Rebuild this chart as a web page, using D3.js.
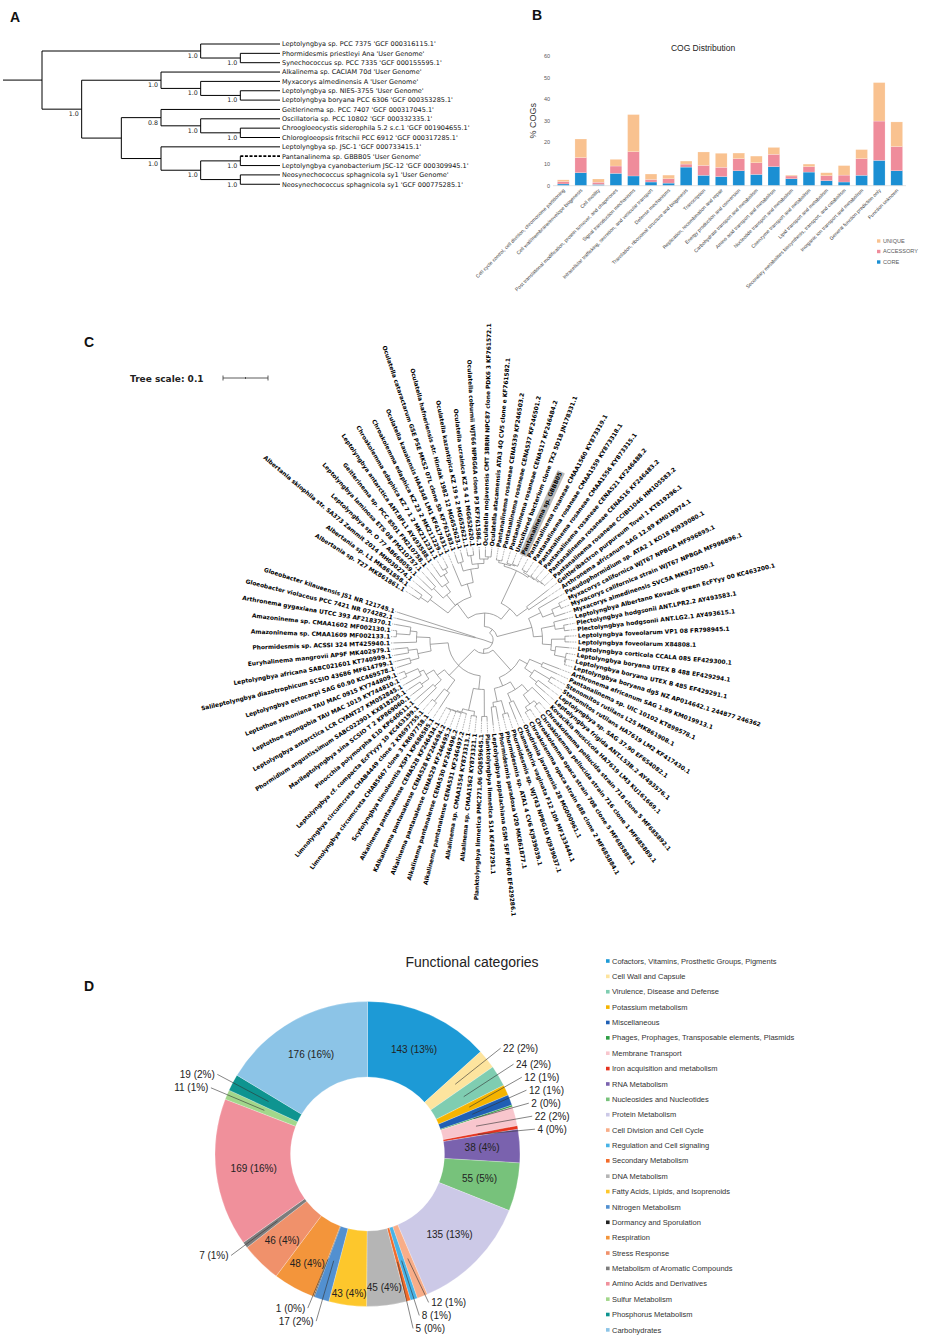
<!DOCTYPE html>
<html><head><meta charset="utf-8">
<script src="https://cdn.jsdelivr.net/npm/d3@7"></script>
<style>body{margin:0;background:#fff}</style>
</head><body>
<svg id="fig" width="946" height="1339" xmlns="http://www.w3.org/2000/svg"></svg>
<script>
// ================= DATA =================
// Panel A: phylogenomic tree (cladogram), leaves and topology with support values
const aLeaves = [
  "Leptolyngbya sp. PCC 7375 'GCF 000316115.1'",
  "Phormidesmis priestleyi Ana 'User Genome'",
  "Synechococcus sp. PCC 7335 'GCF 000155595.1'",
  "Alkalinema sp. CACIAM 70d 'User Genome'",
  "Myxacorys almedinensis A 'User Genome'",
  "Leptolyngbya sp. NIES-3755 'User Genome'",
  "Leptolyngbya boryana PCC 6306 'GCF 000353285.1'",
  "Geitlerinema sp. PCC 7407 'GCF 000317045.1'",
  "Oscillatoria sp. PCC 10802 'GCF 000332335.1'",
  "Chroogloeocystis siderophila 5.2 s.c.1 'GCF 001904655.1'",
  "Chlorogloeopsis fritschii PCC 6912 'GCF 000317285.1'",
  "Leptolyngbya sp. JSC-1 'GCF 000733415.1'",
  "Pantanalinema sp. GBBB05 'User Genome'",
  "Leptolyngbya cyanobacterium JSC-12 'GCF 000309945.1'",
  "Neosynechococcus sphagnicola sy1 'User Genome'",
  "Neosynechococcus sphagnicola sy1 'GCF 000775285.1'"
];
const aNewick = "((0,(1,2)1.0)1.0,((3,(4,(5,6)1.0)1.0)1.0,((7,(8,(9,10)1.0)1.0)0.8,(11,((12,13)1.0,(14,15)1.0)1.0)1.0))1.0);";
const aDashedLeaf = 12;

// Panel B: COG distribution (% COGs)
const cogCategories = [
  "Cell cycle control, cell division, chromosome partitioning",
  "Cell wall/membrane/envelope biogenesis",
  "Cell motility",
  "Post translational modification, protein turnover, and chaperones",
  "Signal transduction mechanisms",
  "Intracellular trafficking, secretion, and vesicular transport",
  "Defense mechanisms",
  "Translation, ribosomal structure and biogenesis",
  "Transcription",
  "Replication, recombination and repair",
  "Energy production and conversion",
  "Carbohydrate transport and metabolism",
  "Amino acid transport and metabolism",
  "Nucleotide transport and metabolism",
  "Coenzyme transport and metabolism",
  "Lipid transport and metabolism",
  "Secondary metabolites biosynthesis, transport, and catabolism",
  "Inorganic ion transport and metabolism",
  "General function prediction only",
  "Function unknown"
];
const cogCore      = [0.8, 6.0, 0.6, 5.7, 4.5, 1.7, 1.2, 8.6, 4.8, 4.2, 6.9, 5.2, 8.8, 3.2, 6.3, 2.3, 1.7, 4.8, 11.7, 6.9];
const cogAccessory = [1.1, 7.0, 1.0, 3.4, 11.2, 1.2, 2.0, 1.4, 4.6, 4.3, 5.6, 5.4, 5.7, 1.3, 2.5, 2.3, 3.2, 7.7, 18.2, 11.2];
const cogUnique    = [0.8, 8.6, 1.5, 3.1, 17.2, 2.5, 1.7, 1.4, 6.2, 6.5, 2.6, 3.1, 3.2, 0.4, 1.2, 1.4, 4.4, 4.2, 17.8, 11.4];
const cogTicks = [0, 10, 20, 30, 40, 50, 60];
const cogKeys = ["core", "accessory", "unique"];
const cogLegend = ["UNIQUE", "ACCESSORY", "CORE"];

// Panel C: 16S rRNA circular tree (leaf order clockwise) and topology with branch lengths
const cLeaves = [
  "Albertania sp. T27 MK861861.1",
  "Albertania sp. L1 MK861858.1",
  "Albertania skiophila str. SA373 Zammit 2014 MH030274.1",
  "Leptolyngbya sp. O 77 AB668059.1",
  "Leptolyngbya laminosa ETS 08 FM210757.1",
  "Geitlerinema sp. PCC 8501 FM210758.1",
  "Leptolyngbya antarctica ANT.BFL1 AY493588.1",
  "Chroakolemma edaphica KZ 7 1 2 MK211231.1",
  "Chroakolemma edaphica KZ 23 2 MK211229.1",
  "Oculatella kauaiensis HA4348 LM1 KF417431.1",
  "Oculatella cataractarum GSE PSE MKS2 07L clone 5b KF761583.1",
  "Oculatella hafneriensis str. Hindak 1982 12 MG652623.1",
  "Oculatella kazantipica KZ 19 s 2 MG652621.1",
  "Oculatella ucrainica KZ 5 4 1 MG652620.1",
  "Oculatella coburnii WJT66 NPBG6A clone P3 KF761586.1",
  "Oculatella mojavensis CMT 3BRIN NPC87 clone PDK6 3 KF761572.1",
  "Oculatella atacamensis ATA3 4Q CV5 clone e KF761582.1",
  "Pantanalinema rosaneae CENA539 KF246503.2",
  "Pantanalinema rosaneae CENA537 KF246501.2",
  "Pantanalinema rosaneae CENA517 KF246484.2",
  "Uncultured bacterium clone TX2 5D18 JN178331.1",
  "Pantanalinema sp. GBBB05",
  "Pantanalinema rosaneae CMAA1560 KY873319.1",
  "Pantanalinema rosaneae CMAA1559 KY873318.1",
  "Pantanalinema rosaneae CMAA1556 KY873315.1",
  "Pantanalinema rosaneae CENA521 KF246488.2",
  "Pantanalinema rosaneae CENA516 KF246483.2",
  "Pantanalinema rosaneae CCIBt1046 HM105583.2",
  "Geitleribactron purpureum Tovel 1 KT819296.1",
  "Arthronema africanum SAG 12.89 KM019974.1",
  "Pseudophormidium sp. ATA2 1 KO18 KJ939080.1",
  "Myxacorys californica WJT67 NPBGA MF996895.1",
  "Myxacorys californica strain WJT67 NPBGA MF996896.1",
  "Myxacorys almedinensis SVC5A MK927050.1",
  "Leptolyngbya Albertano Kovacik green EcFYyy 00 KC463200.1",
  "Plectolyngbya hodgsonii ANT.LPR2.2 AY493583.1",
  "Plectolyngbya hodgsonii ANT.LG2.1 AY493615.1",
  "Leptolyngbya foveolarum VP1 08 FR798945.1",
  "Leptolyngbya foveolarum X84808.1",
  "Leptolyngbya corticola CCALA 085 EF429300.1",
  "Leptolyngbya boryana UTEX B 488 EF429294.1",
  "Leptolyngbya boryana UTEX B 485 EF429291.1",
  "Leptolyngbya boryana dg5 NZ AP014642.1 244877 246362",
  "Arthronema africanum SAG 1.89 KM019913.1",
  "Pantanalinema sp. UIC 10102 KT899578.1",
  "Stenomitos rutilans L25 MK861908.1",
  "Stenomitos rutilans HA7619 LM2 KF417430.1",
  "Leptolyngbya sp. SAG 37.90 EF654082.1",
  "Leptolyngbya frigida ANT.L53B.2 AY493576.1",
  "Kovacikia muscicola HA7619 LM3 KU161669.1",
  "Chroakolemma pellucida strain 718 clone 5 MF685892.1",
  "Chroakolemma pellucida strain 716 clone 1 MF685889.1",
  "Chroakolemma opaca strain 708 clone 5 MF685888.1",
  "Chroakolemma opaca strain 688 clone 2 MF685884.1",
  "Onodrimia javanensis 28 MG000961.1",
  "Chamaethrix vaginata F12 109 MF133444.1",
  "Phormidesmis sp. WJT43 NPBG10 KJ939037.1",
  "Phormidesmis sp. ATA1 4 CV6 KJ939039.1",
  "Phormidesmis paradoxa V20 MK861877.1",
  "Leptolyngbya appalachiana GSM SFF MF60 EF429286.1",
  "Planktolyngbya limnetica S14 KF487291.1",
  "Planktolyngbya limnetica PMC271.06 GQ859645.1",
  "Alkalinema sp. CMAA1562 KY873321.1",
  "Alkalinema sp. CMAA1554 KY873313.1",
  "Alkalinema pantanalense CENA531 KF246497.2",
  "Alkalinema pantanalense CENA530 KF246496.2",
  "Alkalinema pantanalense CENA529 KF246495.2",
  "KAlkalinema pantanalense CENA528 KF246494.2",
  "Alkalinema pantanalense CENA528 KF246434.1",
  "Scytolyngbya timoleontis XSP1 KP686585.1",
  "Limnolyngbya circumcreta CHAB5667 clone 3 KR697758.1",
  "Limnolyngbya circumcreta CHAB4449 clone 2 KR697755.1",
  "Leptolyngbya cf. compacta EcFYyyy 10 KC463199.1",
  "Pinocchia polymorpha E10 KP640611.1",
  "Marileptolyngbya sina SCSIO T 2 KP869060.1",
  "Phormidium angustissimum SABC022901 KX818205.1",
  "Leptolyngbya antarctica LCR CYANT27 KM052845.1",
  "Leptothoe spongobia TAU MAC 1015 KY744810.1",
  "Leptothoe sithoniana TAU MAC 0915 KY744809.1",
  "Leptolyngbya ectocarpi SAG 60.90 KC469578.1",
  "Salileptolyngbya diazotrophicum SCSIO 43686 MF614799.1",
  "Leptolyngbya africana SABC021601 KT740999.1",
  "Euryhalinema mangrovii AP9F MK402979.1",
  "Phormidesmis sp. ACSSI 324 MT425940.1",
  "Amazoninema sp. CMAA1609 MF002133.1",
  "Amazoninema sp. CMAA1602 MF002130.1",
  "Arthronema gygaxiana UTCC 393 AF218370.1",
  "Gloeobacter violaceus PCC 7421 NR 074282.1",
  "Gloeobacter kilaueensis JS1 NR 121745.1"
];
const cCladeUL = "(((0:0.02,1:0.02):0.02,2:0.04):0.05,((3:0.03,4:0.03):0.03,(5:0.04,(6:0.02,(7:0.01,8:0.01):0.01):0.02):0.02):0.03,(9:0.05,((10:0.02,11:0.02):0.02,((12:0.01,13:0.01):0.02,(14:0.02,(15:0.015,16:0.015):0.005):0.01):0.01):0.03):0.03):0.04";
const cCladeT = "((((17:0.005,18:0.005):0.005,(19:0.005,(20:0.008,21:0.006):0.002):0.003):0.005,((22:0.005,23:0.005):0.004,(24:0.006,(25:0.004,(26:0.003,27:0.003):0.002):0.003):0.002):0.004):0.08,(28:0.06,29:0.05):0.03):0.03";
const cCladeR = "((30:0.05,((31:0.005,32:0.005):0.02,33:0.025):0.025):0.03,((34:0.03,(35:0.01,36:0.01):0.02):0.03,((37:0.01,38:0.01):0.03,(39:0.03,(40:0.005,(41:0.003,42:0.003):0.002):0.025):0.01):0.02):0.02):0.08";
const cCladeLR = "(((43:0.04,44:0.04):0.03,((45:0.01,46:0.01):0.04,(47:0.03,48:0.03):0.02):0.02):0.02,(((49:0.04,((50:0.005,51:0.005):0.01,(52:0.005,53:0.005):0.01):0.025):0.02,(54:0.04,55:0.04):0.02):0.02,((56:0.01,57:0.01):0.03,(58:0.03,59:0.04):0.01):0.03):0.02):0.06";
const cCladeB = "(((60:0.01,61:0.01):0.06,((62:0.005,63:0.005):0.01,(64:0.004,(65:0.003,(66:0.003,(67:0.002,68:0.002):0.001):0.001):0.002):0.008):0.05):0.03,((69:0.04,(70:0.005,71:0.005):0.035):0.03,((72:0.05,73:0.05):0.02,((74:0.03,75:0.03):0.02,(76:0.04,(77:0.01,78:0.01):0.03):0.01):0.02):0.02):0.03,(((79:0.03,80:0.03):0.02,(81:0.03,82:0.03):0.02):0.03,(83:0.05,((84:0.005,85:0.005):0.03,86:0.035):0.015):0.03):0.04):0.05";
const cOutgroup = "(87:0.18,88:0.18):0.02";
const cHighlight = "Pantanalinema sp. GBBB05";
const cScaleValue = 0.1;

// Panel D: functional categories (counts)
const funcCategories = [
  "Cofactors, Vitamins, Prosthetic Groups, Pigments",
  "Cell Wall and Capsule",
  "Virulence, Disease and Defense",
  "Potassium metabolism",
  "Miscellaneous",
  "Phages, Prophages, Transposable elements, Plasmids",
  "Membrane Transport",
  "Iron acquisition and metabolism",
  "RNA Metabolism",
  "Nucleosides and Nucleotides",
  "Protein Metabolism",
  "Cell Division and Cell Cycle",
  "Regulation and Cell signaling",
  "Secondary Metabolism",
  "DNA Metabolism",
  "Fatty Acids, Lipids, and Isoprenoids",
  "Nitrogen Metabolism",
  "Dormancy and Sporulation",
  "Respiration",
  "Stress Response",
  "Metabolism of Aromatic Compounds",
  "Amino Acids and Derivatives",
  "Sulfur Metabolism",
  "Phosphorus Metabolism",
  "Carbohydrates"
];
const funcCounts = [143, 22, 24, 12, 12, 2, 22, 4, 38, 55, 135, 12, 8, 5, 45, 43, 17, 1, 48, 46, 7, 169, 11, 19, 176];
const funcColors = ["#1d9ad6","#fde49e","#7fcdb1","#f5b400","#1f5fb4","#2e9e45","#f8c6cd","#e5331f","#7a62ae","#77c27b",
  "#ccc9e7","#f8ad88","#48b3e6","#f26b2a","#b5b5b5","#fdc72c","#5290d0","#222222","#f3953b","#f0916b",
  "#7d7d7d","#f0909b","#a2d78b","#0e9490","#8cc4e7"];

// ================= HELPERS =================
function parseNewick(s) {
  let i = 0;
  function num() { const j = i; while (i < s.length && /[0-9.]/.test(s[i])) i++; return s.slice(j, i); }
  function node() {
    const n = {};
    if (s[i] === "(") {
      i++; n.children = [];
      for (;;) { n.children.push(node()); if (s[i] === ",") { i++; continue; } break; }
      i++;
      const lab = num(); if (lab) n.support = lab;
    } else { n.leaf = +num(); }
    if (s[i] === ":") { i++; n.len = +num(); } else n.len = 0;
    return n;
  }
  return node();
}

const svg = d3.select("#fig");
svg.append("rect").attr("width", 946).attr("height", 1339).attr("fill", "#fff");

// panel letters
const panelFont = "'Liberation Sans', Arial, sans-serif";
[["A", 10, 22], ["B", 532, 20], ["C", 84, 347], ["D", 84, 991]].forEach(([t, x, y]) =>
  svg.append("text").attr("x", x).attr("y", y).text(t)
    .attr("font-family", panelFont).attr("font-weight", "bold").attr("font-size", 14).attr("fill", "#111"));

// ================= PANEL A =================
(function () {
  const g = svg.append("g");
  const root = d3.hierarchy(parseNewick(aNewick), d => d.children);
  const step = 9.35, top = 44, x0 = 42, x1 = 280, stemX = 3;
  d3.cluster().size([step * aLeaves.length, 1]).separation(() => 1)(root);
  const Y = d => top - step / 2 + d.x, X = d => x0 + d.y * (x1 - x0);
  const font = "'DejaVu Sans', sans-serif";
  g.append("line").attr("x1", stemX).attr("x2", X(root)).attr("y1", Y(root)).attr("y2", Y(root))
    .attr("stroke", "#000").attr("stroke-width", 1);
  root.descendants().forEach(d => {
    if (d.parent) {
      const dashed = !d.children && d.data.leaf === aDashedLeaf;
      g.append("line").attr("x1", X(d.parent)).attr("x2", X(d)).attr("y1", Y(d)).attr("y2", Y(d))
        .attr("stroke", "#000").attr("stroke-width", dashed ? 1.8 : 1)
        .attr("stroke-dasharray", dashed ? "3,1.6" : null);
    }
    if (d.children) {
      const ys = d.children.map(Y);
      g.append("line").attr("x1", X(d)).attr("x2", X(d)).attr("y1", d3.min(ys)).attr("y2", d3.max(ys))
        .attr("stroke", "#000").attr("stroke-width", 1);
      if (d.data.support) {
        g.append("text").attr("x", X(d) - 3).attr("y", Y(d) + 7).attr("text-anchor", "end")
          .attr("font-family", font).attr("font-size", 6.3).attr("fill", "#222").text(d.data.support);
      }
    } else {
      g.append("text").attr("x", x1 + 2).attr("y", Y(d) + 2.3)
        .attr("font-family", font).attr("font-size", 6.5).attr("fill", "#111").text(aLeaves[d.data.leaf]);
    }
  });
})();

// ================= PANEL B =================
(function () {
  const g = svg.append("g");
  const font = "'Liberation Sans', Arial, sans-serif";
  const rows = cogCategories.map((c, i) => ({ cat: c, core: cogCore[i], accessory: cogAccessory[i], unique: cogUnique[i] }));
  const x = d3.scaleBand().domain(cogCategories).range([554.5, 905.5]).paddingInner(0.33).paddingOuter(0.165);
  const y = d3.scaleLinear().domain([0, 60]).range([185.7, 56]);
  const colors = { core: "#1b8fd3", accessory: "#ef8c9b", unique: "#f9c290" };
  const series = d3.stack().keys(cogKeys)(rows);
  g.append("text").attr("x", 703).attr("y", 51).attr("text-anchor", "middle").attr("font-family", font)
    .attr("font-size", 8.5).attr("fill", "#222").text("COG  Distribution");
  cogTicks.forEach(t => g.append("text").attr("x", 550).attr("y", y(t)).attr("dy", "0.35em")
    .attr("text-anchor", "end").attr("font-family", font).attr("font-size", 5.5).attr("fill", "#595959").text(t));
  g.append("text").attr("transform", `translate(536,${y(30)}) rotate(-90)`).attr("text-anchor", "middle")
    .attr("font-family", font).attr("font-size", 9).attr("fill", "#333").text("% COGs");
  series.forEach(s => {
    g.append("g").selectAll("rect").data(s).join("rect")
      .attr("x", d => x(d.data.cat)).attr("width", x.bandwidth())
      .attr("y", d => y(d[1])).attr("height", d => y(d[0]) - y(d[1]))
      .attr("fill", colors[s.key]).attr("stroke", "#fff").attr("stroke-opacity", 0.5).attr("stroke-width", 0.4);
  });
  g.append("line").attr("x1", 553).attr("x2", 906).attr("y1", y(0)).attr("y2", y(0))
    .attr("stroke", "#d9d9d9").attr("stroke-width", 0.8);
  cogCategories.forEach(c => g.append("text")
    .attr("transform", `translate(${x(c) + x.bandwidth() / 2 + 2},${y(0) + 5}) rotate(-45)`)
    .attr("text-anchor", "end").attr("font-family", font).attr("font-size", 5).attr("fill", "#3a3a3a").text(c));
  const legKey = { UNIQUE: "unique", ACCESSORY: "accessory", CORE: "core" };
  cogLegend.forEach((l, i) => {
    const yy = 241 + i * 10.5;
    g.append("rect").attr("x", 877).attr("y", yy - 1.7).attr("width", 3.4).attr("height", 3.4).attr("fill", colors[legKey[l]]);
    g.append("text").attr("x", 883).attr("y", yy).attr("dy", "0.35em").attr("font-family", font)
      .attr("font-size", 5.6).attr("fill", "#595959").text(l);
  });
})();

// ================= PANEL C =================
(function () {
  const g = svg.append("g");
  const font = "'DejaVu Sans', sans-serif";
  const cx = 484, cy = 640, unit = 450, labelR = 94, stepA = 3.93, startA = 300;
  const newick = "((((" + cCladeUL + "," + cCladeT + "):0.03," + cCladeR + "):0.01,(" + cCladeLR + "," + cCladeB + "):0.01):0.02," + cOutgroup + ");";
  const root = d3.hierarchy(parseNewick(newick), d => d.children);
  d3.cluster().size([stepA * cLeaves.length, 1]).separation(() => 1)(root);
  root.eachBefore(d => { d.r = (d.parent ? d.parent.r : 0) + d.data.len * unit; d.a = startA + d.x; });
  const pt = (a, r) => [cx + r * Math.sin(a * Math.PI / 180), cy - r * Math.cos(a * Math.PI / 180)];
  const links = g.append("g").attr("fill", "none").attr("stroke", "#858585").attr("stroke-width", 0.75);
  root.descendants().forEach(d => {
    if (!d.parent) return;
    const p = d.parent;
    const [sx, sy] = pt(p.a, p.r), [ax, ay] = pt(d.a, p.r), [ex, ey] = pt(d.a, d.r);
    const sweep = d.a > p.a ? 1 : 0;
    const path = p.r > 0 ? `M${sx},${sy}A${p.r},${p.r} 0 0 ${sweep} ${ax},${ay}L${ex},${ey}` : `M${ax},${ay}L${ex},${ey}`;
    links.append("path").attr("d", path);
  });
  root.leaves().forEach(d => {
    if (d.r < labelR - 3) {
      const [a1, b1] = pt(d.a, d.r + 0.5), [a2, b2] = pt(d.a, labelR - 1);
      g.append("line").attr("x1", a1).attr("y1", b1).attr("x2", a2).attr("y2", b2)
        .attr("stroke", "#555").attr("stroke-width", 0.6).attr("stroke-dasharray", "0.8,0.9");
    }
    const a = ((d.a % 360) + 360) % 360;
    const [lx, ly] = pt(a, labelR);
    const right = a < 180;
    const tg = g.append("g").attr("transform", `translate(${lx},${ly}) rotate(${right ? a - 90 : a + 90})`);
    const name = cLeaves[d.data.leaf];
    const t = tg.append("text").attr("x", 0).attr("y", 0).attr("dy", "0.35em")
      .attr("text-anchor", right ? "start" : "end").attr("font-family", font).attr("font-weight", "bold")
      .attr("font-size", 5.9).attr("fill", "#000").text(name);
    if (name === cHighlight) {
      const bb = t.node().getBBox();
      tg.insert("rect", "text").attr("x", bb.x - 1).attr("y", bb.y - 0.5).attr("width", bb.width + 2)
        .attr("height", bb.height + 1).attr("fill", "#b9b9b9").attr("rx", 1);
    }
  });
  // tree scale
  const sx0 = 223, sy0 = 378, len = cScaleValue * unit;
  g.append("text").attr("x", 130).attr("y", sy0 + 3.5).attr("font-family", font).attr("font-weight", "bold")
    .attr("font-size", 9).attr("fill", "#222").text("Tree scale: " + cScaleValue);
  const sb = g.append("g").attr("stroke", "#333").attr("stroke-width", 0.8);
  sb.append("line").attr("x1", sx0).attr("x2", sx0 + len).attr("y1", sy0).attr("y2", sy0);
  [[sx0, 2.5], [sx0 + len / 2, 1], [sx0 + len, 2.5]].forEach(([xx, h]) =>
    sb.append("line").attr("x1", xx).attr("x2", xx).attr("y1", sy0 - h).attr("y2", sy0 + h));
})();

// ================= PANEL D =================
(function () {
  const g = svg.append("g");
  const font = "'Liberation Sans', Arial, sans-serif";
  const dcx = 367.5, dcy = 1154, ro = 152.5, ri = 77;
  const rows = funcCategories.map((c, i) => ({ cat: c, v: funcCounts[i], color: funcColors[i] }));
  const total = d3.sum(funcCounts);
  const pie = d3.pie().sort(null).value(d => d.v)(rows);
  const arc = d3.arc().innerRadius(ri).outerRadius(ro);
  const lab = d => `${d.data.v} (${Math.round(d.data.v / total * 100)}%)`;
  g.append("text").attr("x", 472).attr("y", 967).attr("text-anchor", "middle").attr("font-family", font)
    .attr("font-size", 14).attr("fill", "#222").text("Functional categories");
  const gp = g.append("g").attr("transform", `translate(${dcx},${dcy})`);
  gp.selectAll("path").data(pie).join("path").attr("d", arc).attr("fill", d => d.data.color)
    .attr("stroke", "#fff").attr("stroke-width", 0.4).attr("stroke-opacity", 0.6);
  // inside labels: start at mid-ring, move outward until the text box fits inside its slice
  const angOf = (x, y) => { let a = Math.atan2(x, -y); if (a < 0) a += 2 * Math.PI; return a; };
  pie.filter(d => d.data.v >= 30).forEach(d => {
    const t = gp.append("text").attr("dy", "0.35em").attr("text-anchor", "middle")
      .attr("font-family", font).attr("font-size", 10).attr("fill", "#222").text(lab(d));
    const w = t.node().getComputedTextLength(), h = 9;
    const m = (d.startAngle + d.endAngle) / 2;
    const rMid = (ri + ro) / 2;
    let best = rMid;
    for (let r = rMid; r <= ro - 4; r += 0.5) {
      const px = r * Math.sin(m), py = -r * Math.cos(m);
      const corners = [[px - w / 2, py - h / 2], [px + w / 2, py - h / 2], [px - w / 2, py + h / 2], [px + w / 2, py + h / 2]];
      const ok = corners.every(([x, y]) => {
        const a = angOf(x, y), rr = Math.hypot(x, y);
        return a >= d.startAngle - 0.004 && a <= d.endAngle + 0.004 && rr <= ro + 1 && rr >= ri;
      });
      if (ok) { best = r; break; }
    }
    t.attr("x", best * Math.sin(m)).attr("y", -best * Math.cos(m));
  });
  // outside labels with leader lines
  const outs = pie.filter(d => d.data.v < 30).map(d => {
    const m = (d.startAngle + d.endAngle) / 2;
    const R = 170;
    return { d, m, side: Math.sin(m) >= 0 ? 1 : -1,
      x: R * Math.sin(m), y0: -R * Math.cos(m), y: -R * Math.cos(m),
      sx: 112 * Math.sin(m), sy: -112 * Math.cos(m) };
  });
  const gap = 13;
  [1, -1].forEach(side => {
    const L = outs.filter(o => o.side === side).sort((a, b) => a.y0 - b.y0);
    let clusters = L.map(o => ({ items: [o] }));
    const place = c => {
      const mean = d3.mean(c.items, o => o.y0);
      const n = c.items.length;
      c.items.forEach((o, k) => o.y = mean + (k - (n - 1) / 2) * gap);
    };
    clusters.forEach(place);
    let merged = true;
    while (merged) {
      merged = false;
      for (let k = 0; k < clusters.length - 1; k++) {
        const a = clusters[k], b = clusters[k + 1];
        if (b.items[0].y - a.items[a.items.length - 1].y < gap) {
          const c = { items: a.items.concat(b.items) };
          place(c); clusters.splice(k, 2, c); merged = true; break;
        }
      }
    }
  });
  outs.forEach(o => {
    gp.append("line").attr("x1", o.sx).attr("y1", o.sy).attr("x2", o.x).attr("y2", o.y)
      .attr("stroke", "#333").attr("stroke-width", 0.6);
    gp.append("text").attr("x", o.x + 2.5 * o.side).attr("y", o.y).attr("dy", "0.35em")
      .attr("text-anchor", o.side > 0 ? "start" : "end").attr("font-family", font)
      .attr("font-size", 10).attr("fill", "#222").text(lab(o.d));
  });
  // legend
  const lx = 606, ly0 = 961, lstep = 15.37;
  rows.forEach((r, i) => {
    const yy = ly0 + i * lstep;
    g.append("rect").attr("x", lx).attr("y", yy - 1.8).attr("width", 3.6).attr("height", 3.6).attr("fill", r.color);
    g.append("text").attr("x", lx + 6).attr("y", yy).attr("dy", "0.35em").attr("font-family", font)
      .attr("font-size", 7.5).attr("fill", "#333").text(r.cat);
  });
})();
</script>
</body></html>
